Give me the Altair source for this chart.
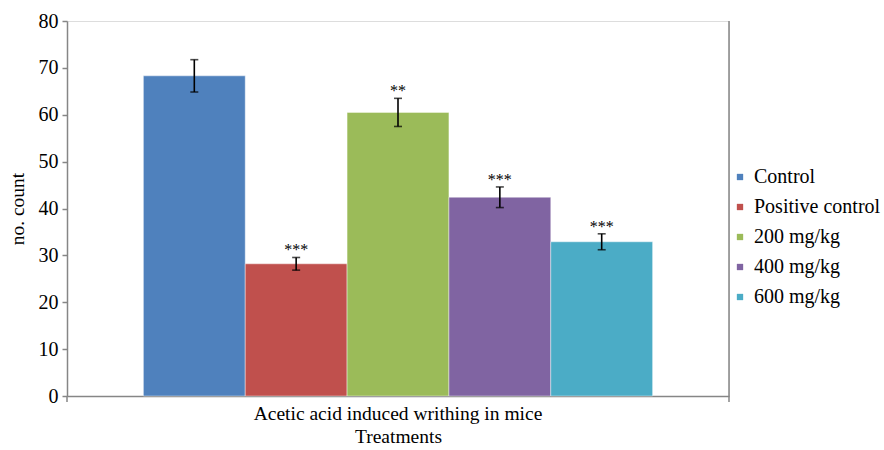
import altair as alt
import pandas as pd

treatments = ["Control", "Positive control", "200 mg/kg", "400 mg/kg", "600 mg/kg"]
means = [68.3, 28.2, 60.5, 42.4, 32.9]
errors = [3.45, 1.35, 3.0, 2.2, 1.7]
stars = ["", "***", "**", "***", "***"]
colors = ["#4F81BD", "#C0504D", "#9BBB59", "#8064A2", "#4BACC6"]
group = "Acetic acid induced writhing in mice"
y_ticks = [0, 10, 20, 30, 40, 50, 60, 70, 80]

df = pd.DataFrame({
    "group": [group] * len(treatments),
    "treatment": treatments,
    "mean": means,
    "err": errors,
    "stars": stars,
})
df["lo"] = df["mean"] - df["err"]
df["hi"] = df["mean"] + df["err"]

W, H = 662, 375
FONT = "'Liberation Serif', 'Times New Roman', 'DejaVu Serif', serif"

base = alt.Chart(df).encode(
    x=alt.X("group:N", title="Treatments",
            scale=alt.Scale(paddingInner=0, paddingOuter=0.15),
            axis=alt.Axis(labelAngle=0, ticks=False, domainColor="#868686", domainWidth=1.5,
                          labelFont=FONT, labelFontSize=19.5, labelColor="black", labelPadding=8,
                          labelLimit=0,
                          titleFont=FONT, titleFontSize=19.5, titleFontWeight="normal",
                          titleColor="black", titlePadding=5)),
    xOffset=alt.XOffset("treatment:N", sort=treatments, scale=alt.Scale(paddingInner=0, paddingOuter=0)),
)

bars = base.mark_bar(stroke="white", strokeWidth=0.6, strokeOpacity=0.7).encode(
    y=alt.Y("mean:Q", title="no. count",
            scale=alt.Scale(domain=[0, 80], nice=False),
            axis=alt.Axis(values=y_ticks, grid=False, domainColor="#868686", domainWidth=1.5,
                          tickColor="#868686", tickSize=5, tickWidth=1.5,
                          labelFont=FONT, labelFontSize=20, labelColor="black", labelPadding=4,
                          titleFont=FONT, titleFontSize=19.5, titleFontWeight="normal",
                          titleColor="black", titlePadding=11)),
    color=alt.Color("treatment:N", sort=treatments,
                    scale=alt.Scale(domain=treatments, range=colors),
                    legend=alt.Legend(title=None, orient="none", legendX=663, legendY=146,
                                      symbolType="square", symbolSize=40, symbolStrokeWidth=0,
                                      labelFont=FONT, labelFontSize=20, labelColor="black",
                                      labelLimit=0, rowPadding=10, labelOffset=4)),
)

err_rule = base.mark_rule(color="black", strokeWidth=1.6).encode(
    y="lo:Q", y2="hi:Q")
err_top = base.mark_tick(color="black", thickness=1.6, size=8).encode(y="hi:Q")
err_bot = base.mark_tick(color="black", thickness=1.6, size=8).encode(y="lo:Q")

labels = base.mark_text(font=FONT, fontSize=16, baseline="alphabetic", dy=-2, color="black").encode(
    y="hi:Q", text="stars:N")

frame_df = pd.DataFrame({"a": [0]})
right_line = alt.Chart(frame_df).mark_rule(color="#868686", strokeWidth=1.5).encode(
    x=alt.value(W), y=alt.value(0), y2=alt.value(H + 6))
left_tick = alt.Chart(frame_df).mark_rule(color="#868686", strokeWidth=1.5).encode(
    x=alt.value(0), y=alt.value(H), y2=alt.value(H + 6))

chart = alt.layer(bars, err_rule, err_top, err_bot, labels, right_line, left_tick).properties(
    width=W, height=H,
    autosize=alt.AutoSizeParams(type="none"),
    padding={"left": 67, "top": 21, "right": 155, "bottom": 54},
).configure_view(stroke=None).configure(background="white")

chart.save("out.html", embed_options={"renderer": "svg", "actions": False})
